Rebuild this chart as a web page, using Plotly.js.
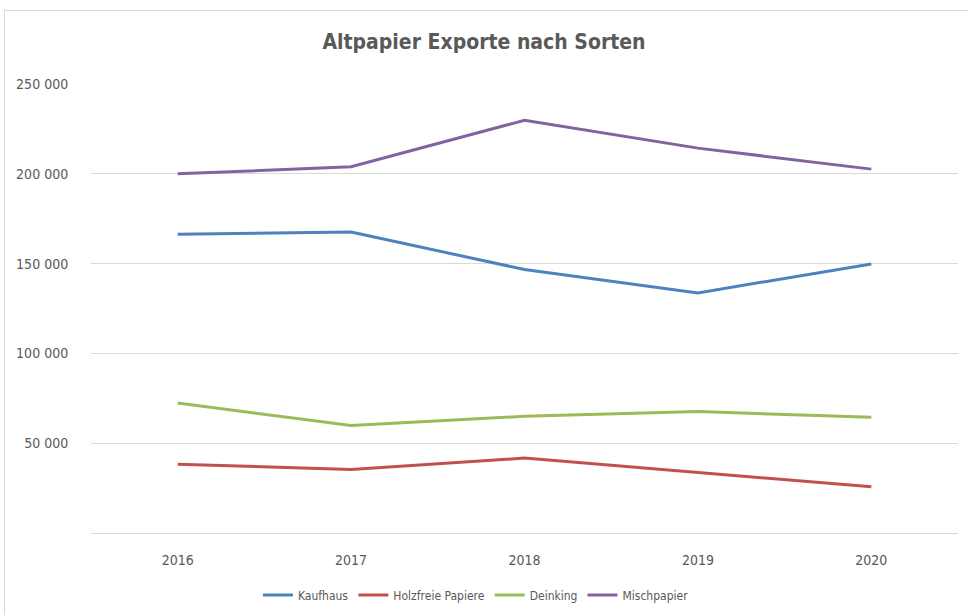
<!DOCTYPE html>
<html>
<head>
<meta charset="utf-8">
<script src="https://cdn.plot.ly/plotly-3.0.1.min.js"></script>
<style>
  html, body { margin: 0; padding: 0; background: #fff; }
  #wrap { position: relative; width: 968px; height: 615px; overflow: hidden; }
  #chart { position: absolute; left: 0; top: 0; width: 968px; height: 615px; }
  #frame { position: absolute; left: 4px; top: 10px; width: 980px; height: 640px;
           border: 1px solid #d9d9d9; box-sizing: border-box; pointer-events: none; }
</style>
</head>
<body>
<div id="wrap">
  <div id="chart"></div>
  <div id="frame"></div>
</div>
<script>
const years = ["2016", "2017", "2018", "2019", "2020"];
const kaufhaus    = [166300, 167600, 146700, 133700, 149800];
const holzfrei    = [38300, 35400, 41700, 33500, 25700];
const deinking    = [72400, 59800, 65000, 67600, 64400];
const mischpapier = [200000, 203900, 229800, 214300, 202600];
const seriesNames = ["Kaufhaus", "Holzfreie Papiere", "Deinking", "Mischpapier"];
const yTicks = [50000, 100000, 150000, 200000, 250000];

const colors = ["#4F81BD", "#C0504D", "#9BBB59", "#8064A2"];
const data = [kaufhaus, holzfrei, deinking, mischpapier].map((vals, i) => ({
  type: "scatter",
  mode: "lines",
  x: years,
  y: vals,
  name: seriesNames[i],
  line: { color: colors[i], width: 3 }
}));

const font = "'Liberation Sans Narrow', 'DejaVu Sans Condensed', 'Liberation Sans', sans-serif";
const layout = {
  width: 968,
  height: 615,
  margin: { l: 91, r: 10, t: 84, b: 82, autoexpand: false },
  paper_bgcolor: "#ffffff",
  plot_bgcolor: "#ffffff",
  separators: ", ",
  font: { family: font, color: "#595959", size: 13 },
  title: {
    text: "<b>Altpapier Exporte nach Sorten</b>",
    font: { family: font, size: 21, color: "#595959" },
    x: 0.5, xanchor: "center",
    y: 1 - 42 / 615, yanchor: "middle", yref: "container"
  },
  xaxis: {
    type: "category",
    range: [-0.5, 4.5],
    showgrid: false,
    zeroline: false,
    showline: false,
    ticks: "outside",
    ticklen: 14,
    tickcolor: "rgba(0,0,0,0)",
    tickfont: { family: font, size: 14, color: "#595959" }
  },
  yaxis: {
    range: [0, 250000],
    tickvals: yTicks,
    tickformat: ",d",
    showgrid: true,
    gridcolor: "#d9d9d9",
    gridwidth: 1,
    zeroline: true,
    zerolinecolor: "#d9d9d9",
    zerolinewidth: 1,
    showline: false,
    ticks: "outside",
    ticklen: 19,
    tickcolor: "rgba(0,0,0,0)",
    tickfont: { family: font, size: 14, color: "#595959" }
  },
  showlegend: true,
  legend: {
    orientation: "h",
    x: 0.444, xanchor: "center",
    y: -0.138, yanchor: "middle",
    font: { family: font, size: 12, color: "#595959" },
    itemwidth: 30,
    bgcolor: "rgba(0,0,0,0)"
  }
};

Plotly.newPlot("chart", data, layout, { displayModeBar: false, staticPlot: true });
</script>
</body>
</html>
